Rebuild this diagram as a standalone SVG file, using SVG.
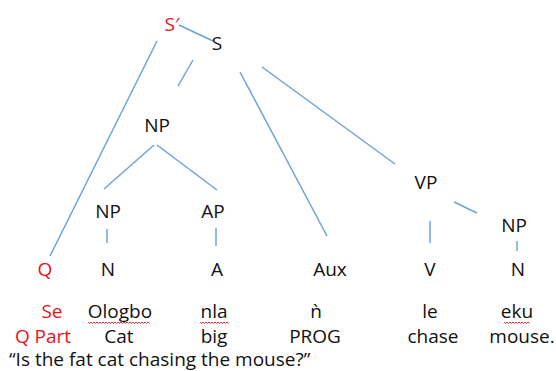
<svg xmlns="http://www.w3.org/2000/svg" width="556" height="371" viewBox="0 0 556 371">
<style>
text{font-family:"Open Sans","Liberation Sans",Arial,sans-serif;font-size:19px;fill:#111;text-anchor:middle}
.r{fill:#e8141b}
.l{stroke:#6fa3d8;stroke-width:1.5;fill:none}
.sq{stroke:#e8141b;stroke-width:0.9;fill:none}
</style>
<rect width="556" height="371" fill="#fff"/>
<g id="connectors">
<line class="l" x1="179" y1="25" x2="213" y2="41"/>
<line class="l" x1="157" y1="41" x2="50" y2="256"/>
<line class="l" x1="193" y1="60" x2="178" y2="86"/>
<line class="l" x1="240" y1="72" x2="327" y2="236"/>
<line class="l" x1="262" y1="67" x2="395" y2="164"/>
<line class="l" x1="154" y1="145" x2="104" y2="189"/>
<line class="l" x1="157" y1="145" x2="217" y2="190"/>
<line class="l" x1="107" y1="229" x2="107" y2="243"/>
<line class="l" x1="216" y1="228" x2="216" y2="246"/>
<line class="l" x1="454" y1="202" x2="477" y2="213"/>
<line class="l" x1="430" y1="221" x2="430" y2="243"/>
<line class="l" x1="517" y1="241" x2="517" y2="251"/>
</g>
<g id="Sbar"><text class="r" x="172" y="31">S′</text></g>
<g id="S"><text x="217" y="50">S</text></g>
<g id="NP1"><text x="157" y="132">NP</text></g>
<g id="NP2"><text x="108" y="218">NP</text></g>
<g id="AP"><text x="213" y="218">AP</text></g>
<g id="VP"><text x="426" y="189">VP</text></g>
<g id="NP3"><text x="514" y="232">NP</text></g>
<g id="Q"><text class="r" x="45" y="276">Q</text></g>
<g id="N1"><text x="108" y="276">N</text></g>
<g id="A"><text x="217" y="276">A</text></g>
<g id="Aux"><text x="330" y="276">Aux</text></g>
<g id="V"><text x="430" y="276">V</text></g>
<g id="N2"><text x="518" y="276">N</text></g>
<g id="words">
<text class="r" x="52" y="318">Se</text>
<text x="120" y="318">Ologbo</text>
<text x="214" y="318">nla</text>
<text x="316" y="318">ǹ</text>
<text x="430" y="318">le</text>
<text x="517" y="318">eku</text>
<text class="r" x="43" y="343">Q Part</text>
<text x="119" y="343">Cat</text>
<text x="214" y="343">big</text>
<text x="315" y="343">PROG</text>
<text x="433" y="343">chase</text>
<text x="522" y="343">mouse.</text>
<text x="9" y="366" style="text-anchor:start">“Is the fat cat chasing the mouse?”</text>
<path class="sq" d="M88 322 l1.5 1.5 l1.5 -1.5 l1.5 1.5 l1.5 -1.5 l1.5 1.5 l1.5 -1.5 l1.5 1.5 l1.5 -1.5 l1.5 1.5 l1.5 -1.5 l1.5 1.5 l1.5 -1.5 l1.5 1.5 l1.5 -1.5 l1.5 1.5 l1.5 -1.5 l1.5 1.5 l1.5 -1.5 l1.5 1.5 l1.5 -1.5 l1.5 1.5 l1.5 -1.5 l1.5 1.5 l1.5 -1.5 l1.5 1.5 l1.5 -1.5 l1.5 1.5 l1.5 -1.5 l1.5 1.5 l1.5 -1.5 l1.5 1.5 l1.5 -1.5 l1.5 1.5 l1.5 -1.5 l1.5 1.5 l1.5 -1.5 l1.5 1.5 l1.5 -1.5 l1.5 1.5 l1.5 -1.5 l1.5 1.5"/>
<path class="sq" d="M200 322 l1.5 1.5 l1.5 -1.5 l1.5 1.5 l1.5 -1.5 l1.5 1.5 l1.5 -1.5 l1.5 1.5 l1.5 -1.5 l1.5 1.5 l1.5 -1.5 l1.5 1.5 l1.5 -1.5 l1.5 1.5 l1.5 -1.5 l1.5 1.5 l1.5 -1.5 l1.5 1.5 l1.5 -1.5 l1.5 1.5"/>
<path class="sq" d="M504 322 l1.5 1.5 l1.5 -1.5 l1.5 1.5 l1.5 -1.5 l1.5 1.5 l1.5 -1.5 l1.5 1.5 l1.5 -1.5 l1.5 1.5 l1.5 -1.5 l1.5 1.5 l1.5 -1.5 l1.5 1.5 l1.5 -1.5 l1.5 1.5 l1.5 -1.5 l1.5 1.5"/>
</g>
</svg>
